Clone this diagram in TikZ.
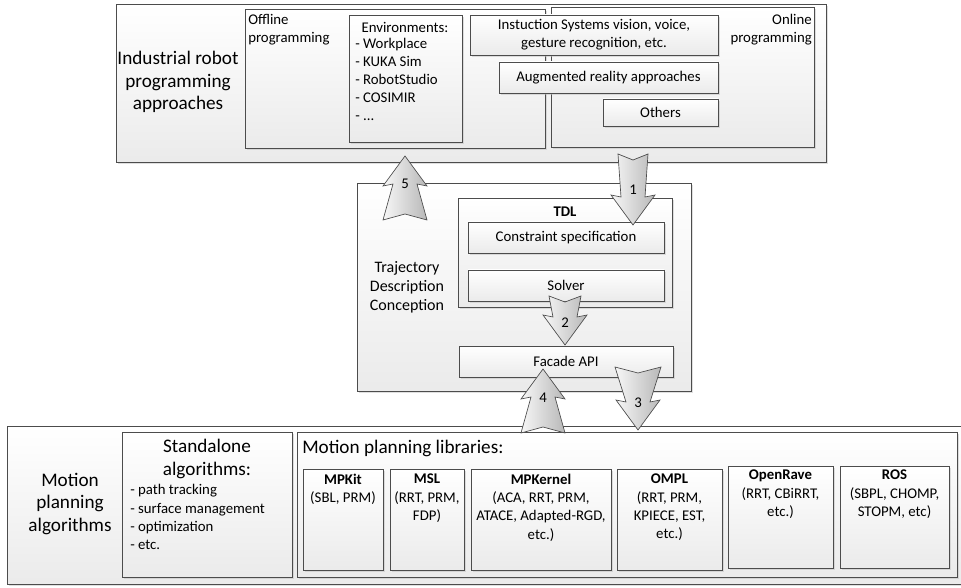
\documentclass[tikz,border=0pt]{standalone}
\usepackage{fontspec}
\setmainfont{Carlito}
\usetikzlibrary{shadows}
\tikzset{
  bx/.style={draw=black!70, line width=0.5pt, top color=white, bottom color=black!8,
    drop shadow={shadow xshift=1.6pt, shadow yshift=-1.6pt, fill=black!25},
    inner sep=0pt, outer sep=0pt, anchor=north west},
  sm/.style={font=\fontsize{11.1}{13.6}\selectfont, inner sep=0pt, align=center},
  mid/.style={font=\fontsize{12}{14.3}\selectfont, inner sep=0pt, align=center},
  big/.style={font=\fontsize{14.4}{17}\selectfont, inner sep=0pt, align=center},
  arrowst/.style={draw=black!70, line width=0.5pt, left color=black!3, right color=black!28, line join=miter},
}
\newcommand\bx[5]{\node[bx, minimum width={(#4-#2)*0.75pt}, minimum height={(#5-#3)*0.75pt}] (#1) at (#2,#3) {};}
% name, x, tail y, tip y, dir, tail half width, label y, label
\newcommand\barw[8]{%
  \path[arrowst] ({#2-#6},{#3}) -- ({#2},{#3+6*(#5)}) -- ({#2+#6},{#3}) -- ({#2+12},{#4-28*(#5)})
    -- ({#2+22},{#4-30*(#5)}) -- ({#2},{#4}) -- ({#2-22},{#4-30*(#5)}) -- ({#2-12},{#4-28*(#5)}) -- cycle;
  \node[sm] (#1) at (#2,#7) {#8};}
\begin{document}
\begin{tikzpicture}[x=0.75pt, y=-0.75pt]
\useasboundingbox (0,0) rectangle (961,588);
% top group
\bx{top}{116}{4}{826}{162}
\bx{off}{245}{9}{545}{148}
\bx{on}{551}{7}{814}{147}
\bx{env}{349}{15}{462}{142}
\bx{inst}{470}{15}{718}{55}
\bx{aug}{499}{62}{718}{93}
\bx{oth}{603}{99}{718}{126}
\node[big] (t-irpa) at (178,82) {Industrial robot\\programming\\approaches};
\node[sm, align=left, anchor=west] (t-off) at (248,30) {Offline\\programming};
\node[sm, align=right, anchor=east] (t-on) at (812,30) {Online\\programming};
\node[sm] (t-env) at (405,27) {Environments:};
\node[sm, align=left, anchor=west] (t-envl) at (355,82) {- Workplace\\- KUKA Sim\\- RobotStudio\\- COSIMIR\\- ...\strut};
\node[sm] (t-inst) at (inst.center) {Instuction Systems vision, voice,\\gesture recognition, etc.};
\node[sm] (t-aug) at (aug.center) {Augmented reality approaches};
\node[sm] (t-oth) at (oth.center) {Others};
% middle group
\bx{midb}{357}{183}{691}{391}
\bx{tdl}{458}{198}{672}{307}
\bx{cons}{468}{222}{664}{253}
\bx{solv}{468}{270}{664}{301}
\bx{fac}{459}{346}{673}{377}
\node[mid] (t-tdc) at (407,287) {Trajectory\\Description\\Conception};
\node[sm, font=\fontsize{11.1}{13.6}\selectfont\bfseries] (t-tdl) at (565,212) {TDL};
\node[sm] (t-cons) at (cons.center) {Constraint specification};
\node[sm] (t-solv) at (solv.center) {Solver};
\node[sm] (t-fac) at (fac.center) {Facade API};
% bottom group
\bx{bot}{7}{426}{975}{584}
\bx{stand}{122}{432}{292}{577}
\bx{libs}{297}{432}{957}{577}
\bx{mpkit}{303}{469}{383}{570}
\bx{msl}{390}{469}{464}{570}
\bx{mpkern}{471}{469}{611}{570}
\bx{ompl}{617}{469}{722}{570}
\bx{orave}{728}{466}{833}{568}
\bx{ros}{840}{466}{949}{568}
\node[big] (t-mpa) at (70,504) {Motion\\planning\\algorithms};
\node[big] (t-sa) at (207,459) {Standalone\\algorithms:};
\node[sm, align=left, anchor=west] (t-sal) at (130,517) {- path tracking\\- surface management\\- optimization\\- etc.};
\node[big, anchor=west] (t-mpl) at (302,448) {Motion planning libraries:};
\node[sm, anchor=north] (t-mpkit) at (343,474) {\textbf{MPKit}\\(SBL, PRM)};
\node[sm, anchor=north] (t-msl) at (427,474) {\textbf{MSL}\\(RRT, PRM,\\FDP)};
\node[sm, anchor=north] (t-mpkern) at (541,474) {\textbf{MPKernel}\\(ACA, RRT, PRM,\\ATACE, Adapted-RGD,\\etc.)};
\node[sm, anchor=north] (t-ompl) at (669.5,474) {\textbf{OMPL}\\(RRT, PRM,\\KPIECE, EST,\\etc.)};
\node[sm, anchor=north] (t-orave) at (780.5,470) {\textbf{OpenRave}\\(RRT, CBiRRT,\\etc.)};
\node[sm, anchor=north] (t-ros) at (894.5,470) {\textbf{ROS}\\(SBPL, CHOMP,\\STOPM, etc)};
% block arrows
\barw{a1}{633}{154}{225}{1}{15}{190}{1}
\barw{a5}{405}{220}{156}{-1}{22}{184}{5}
\barw{a2}{565}{296}{345}{1}{16}{323}{2}
\barw{a4}{543}{433}{369}{-1}{22}{398}{4}
\barw{a3}{638}{367}{430}{1}{23}{403}{3}
\end{tikzpicture}
\end{document}
